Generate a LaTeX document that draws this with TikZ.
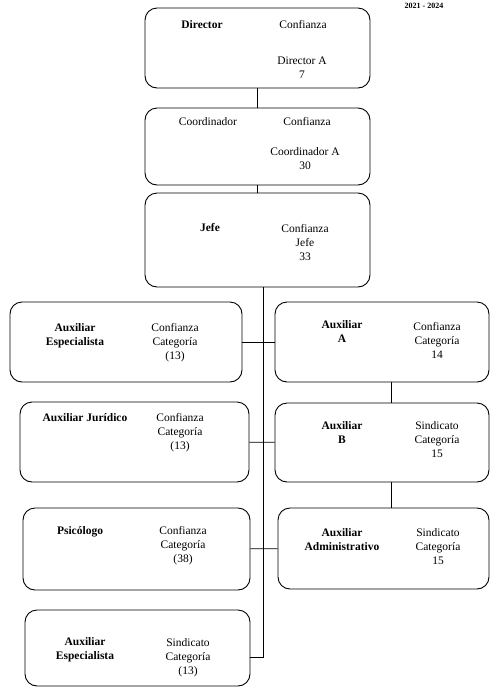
\documentclass[tikz,border=0pt]{standalone}
\usepackage{fontspec}
\setmainfont{Liberation Serif}
\usepackage{tikz}
\usetikzlibrary{positioning, calc}

\tikzset{
  puesto/.style={draw, rounded corners=12pt, line width=0.9pt, inner sep=0pt},
  texto/.style={align=center, font=\fontsize{11.5}{14}\selectfont, inner sep=0pt},
  nombre/.style={texto, font=\fontsize{11.5}{14}\selectfont\bfseries},
  liga/.style={line width=0.6pt}
}

\begin{document}
\begin{tikzpicture}[x=1pt, y=-1pt]
\useasboundingbox (0,0) rectangle (495,689);

% periodo
\node (periodo) [nombre, font=\fontsize{8}{10}\selectfont\bfseries] at (424,6) {2021 - 2024};

% cajas
\node (dir)   [puesto, minimum width=225pt, minimum height=80pt] at (257.5,48) {};
\node (coord) [puesto, minimum width=225pt, minimum height=77pt] at (257.5,146.5) {};
\node (jefe)  [puesto, minimum width=225pt, minimum height=94pt] at (257.5,240) {};
\node (espA)  [puesto, minimum width=232pt, minimum height=80pt] at (126,342) {};
\node (jur)   [puesto, minimum width=229pt, minimum height=80pt] at (134.5,442) {};
\node (psic)  [puesto, minimum width=227pt, minimum height=82pt] at (136.5,549) {};
\node (espS)  [puesto, minimum width=225pt, minimum height=76pt] at (137.5,648) {};
\node (auxA)  [puesto, minimum width=214pt, minimum height=80pt] at (382,342) {};
\node (auxB)  [puesto, minimum width=214pt, minimum height=79pt] at (382,442.5) {};
\node (adm)   [puesto, minimum width=211pt, minimum height=81pt] at (383.5,548.5) {};

% textos
\node (tDir)    [nombre] at (202,25) {Director};
\node (cDir)    [texto]  at (303,25) {Confianza};
\node (pDir)    [texto]  at (302,68) {Director A\\7};
\node (tCoord)  [texto]  at (208,122) {Coordinador};
\node (cCoord)  [texto]  at (307,122) {Confianza};
\node (pCoord)  [texto]  at (305,159) {Coordinador A\\30};
\node (tJefe)   [nombre] at (210,228) {Jefe};
\node (cJefe)   [texto]  at (305,243) {Confianza\\Jefe\\33};
\node (tEspA)   [nombre] at (75,336) {Auxiliar\\Especialista};
\node (cEspA)   [texto]  at (175,343) {Confianza\\Categoría\\(13)};
\node (tAuxA)   [nombre] at (342,332) {Auxiliar\\A};
\node (cAuxA)   [texto]  at (437,340) {Confianza\\Categoría\\14};
\node (tJur)    [nombre] at (85,418) {Auxiliar Jurídico};
\node (cJur)    [texto]  at (180,433) {Confianza\\Categoría\\(13)};
\node (tAuxB)   [nombre] at (342,433) {Auxiliar\\B};
\node (cAuxB)   [texto]  at (437,440) {Sindicato\\Categoría\\15};
\node (tPsic)   [nombre] at (80,532) {Psicólogo};
\node (cPsic)   [texto]  at (183,546) {Confianza\\Categoría\\(38)};
\node (tAdm)    [nombre] at (342,540) {Auxiliar\\Administrativo};
\node (cAdm)    [texto]  at (438,547) {Sindicato\\Categoría\\15};
\node (tEspS)   [nombre] at (85,650) {Auxiliar\\Especialista};
\node (cEspS)   [texto]  at (188,658) {Sindicato\\Categoría\\(13)};

% ligas
\coordinate (tronco) at (263,287);
\coordinate (fin) at (263,657);
\draw[liga] (dir) -- (coord);
\draw[liga] (coord) -- (jefe);
\draw[liga] (tronco) -- (fin) -- (espS.east |- fin);
\draw[liga] (espA) -- (auxA);
\draw[liga] (jur) -- (auxB);
\draw[liga] (psic) -- (adm);
\draw[liga] ([xshift=9pt]auxA.south) -- ([xshift=9pt]auxB.north);
\draw[liga] ([xshift=9pt]auxB.south) -- ([xshift=9pt]auxB.south |- adm.north);
\end{tikzpicture}
\end{document}
